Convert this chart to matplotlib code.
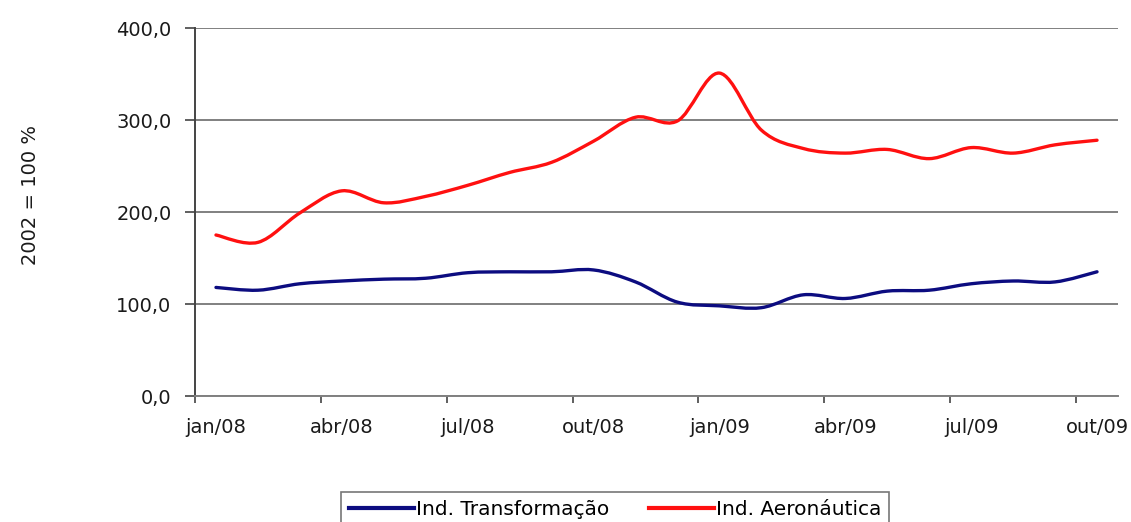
import matplotlib
matplotlib.use('Agg')
import matplotlib.pyplot as plt
from matplotlib.path import Path
from matplotlib.patches import PathPatch
from matplotlib.lines import Line2D
from matplotlib.ticker import FixedLocator, NullFormatter

months = ['jan/08', 'fev/08', 'mar/08', 'abr/08', 'mai/08', 'jun/08', 'jul/08', 'ago/08',
          'set/08', 'out/08', 'nov/08', 'dez/08', 'jan/09', 'fev/09', 'mar/09', 'abr/09',
          'mai/09', 'jun/09', 'jul/09', 'ago/09', 'set/09', 'out/09']
ind_transformacao = [118, 115, 122, 125, 127, 128, 134, 135, 135, 137, 124, 102,
                     98, 96, 110, 106, 114, 115, 122, 125, 124, 135]
ind_aeronautica = [175, 167, 199, 223, 210, 217, 229, 243, 254, 277, 303, 299,
                   351, 289, 269, 264, 268, 258, 270, 264, 273, 278]

BLUE = '#0c0c80'
RED = '#ff1010'
FONT = 'DejaVu Sans'


def smooth_path(xs, ys):
    # bezier segments through every point (catmull-rom style tangents)
    pts = list(zip(xs, ys))
    verts = [pts[0]]
    codes = [Path.MOVETO]
    n = len(pts)
    for i in range(n - 1):
        p0 = pts[i - 1] if i > 0 else pts[i]
        p1 = pts[i]
        p2 = pts[i + 1]
        p3 = pts[i + 2] if i + 2 < n else pts[i + 1]
        c1 = (p1[0] + (p2[0] - p0[0]) / 6, p1[1] + (p2[1] - p0[1]) / 6)
        c2 = (p2[0] - (p3[0] - p1[0]) / 6, p2[1] - (p3[1] - p1[1]) / 6)
        verts += [c1, c2, p2]
        codes += [Path.CURVE4] * 3
    return Path(verts, codes)


fig = plt.figure(figsize=(11.31, 5.22), dpi=100)
ax = fig.add_axes([195 / 1131, 1 - 396 / 522, (1118 - 195) / 1131, (396 - 28) / 522])

x = list(range(len(months)))
for vals, color in [(ind_transformacao, BLUE), (ind_aeronautica, RED)]:
    ax.add_patch(PathPatch(smooth_path(x, vals), fill=False, edgecolor=color,
                           lw=2.4, capstyle='round', joinstyle='round', zorder=3))

ax.set_xlim(-0.5, len(months) - 0.5)
ax.set_ylim(0, 400)

# y axis
ax.set_yticks([0, 100, 200, 300, 400])
ax.set_yticklabels(['0,0', '100,0', '200,0', '300,0', '400,0'], fontsize=14, family=FONT)
ax.yaxis.grid(True, color='#808080', lw=1.4)
ax.set_axisbelow(True)
ax.tick_params(axis='y', length=7, width=1.2, color='#444444', pad=10, labelcolor='#1a1a1a')

# x axis: tick marks on category boundaries, labels on quarter months
ax.xaxis.set_major_locator(FixedLocator([i - 0.5 for i in range(0, len(months) + 1, 3)]))
ax.xaxis.set_major_formatter(NullFormatter())
ax.xaxis.set_minor_locator(FixedLocator(x[::3]))
ax.set_xticklabels(months[::3], minor=True, fontsize=14, family=FONT, color='#1a1a1a')
ax.tick_params(axis='x', which='major', length=5, width=1.2, color='#444444')
ax.tick_params(axis='x', which='minor', length=0, pad=16)

for s in ['top', 'right']:
    ax.spines[s].set_visible(False)
ax.spines['left'].set_color('#444444')
ax.spines['left'].set_linewidth(1.4)
ax.spines['bottom'].set_color('#808080')
ax.spines['bottom'].set_linewidth(1.4)

fig.text(30 / 1131, 1 - 195 / 522, '2002 = 100 %', rotation=90, ha='center', va='center',
         fontsize=14, family=FONT, color='#1a1a1a')

handles = [Line2D([], [], color=BLUE, lw=3), Line2D([], [], color=RED, lw=3)]
leg = fig.legend(handles, ['Ind. Transformação', 'Ind. Aeronáutica'], loc='upper center',
                 bbox_to_anchor=(615 / 1131, 1 - 482 / 522), ncol=2, frameon=True,
                 fancybox=False, edgecolor='#555555', prop={'family': FONT, 'size': 14.5},
                 handlelength=3.2, handletextpad=0.1, columnspacing=2.0, borderpad=0.4)
leg.get_frame().set_linewidth(1.2)

fig.savefig('out.png', dpi=100, facecolor='white')
